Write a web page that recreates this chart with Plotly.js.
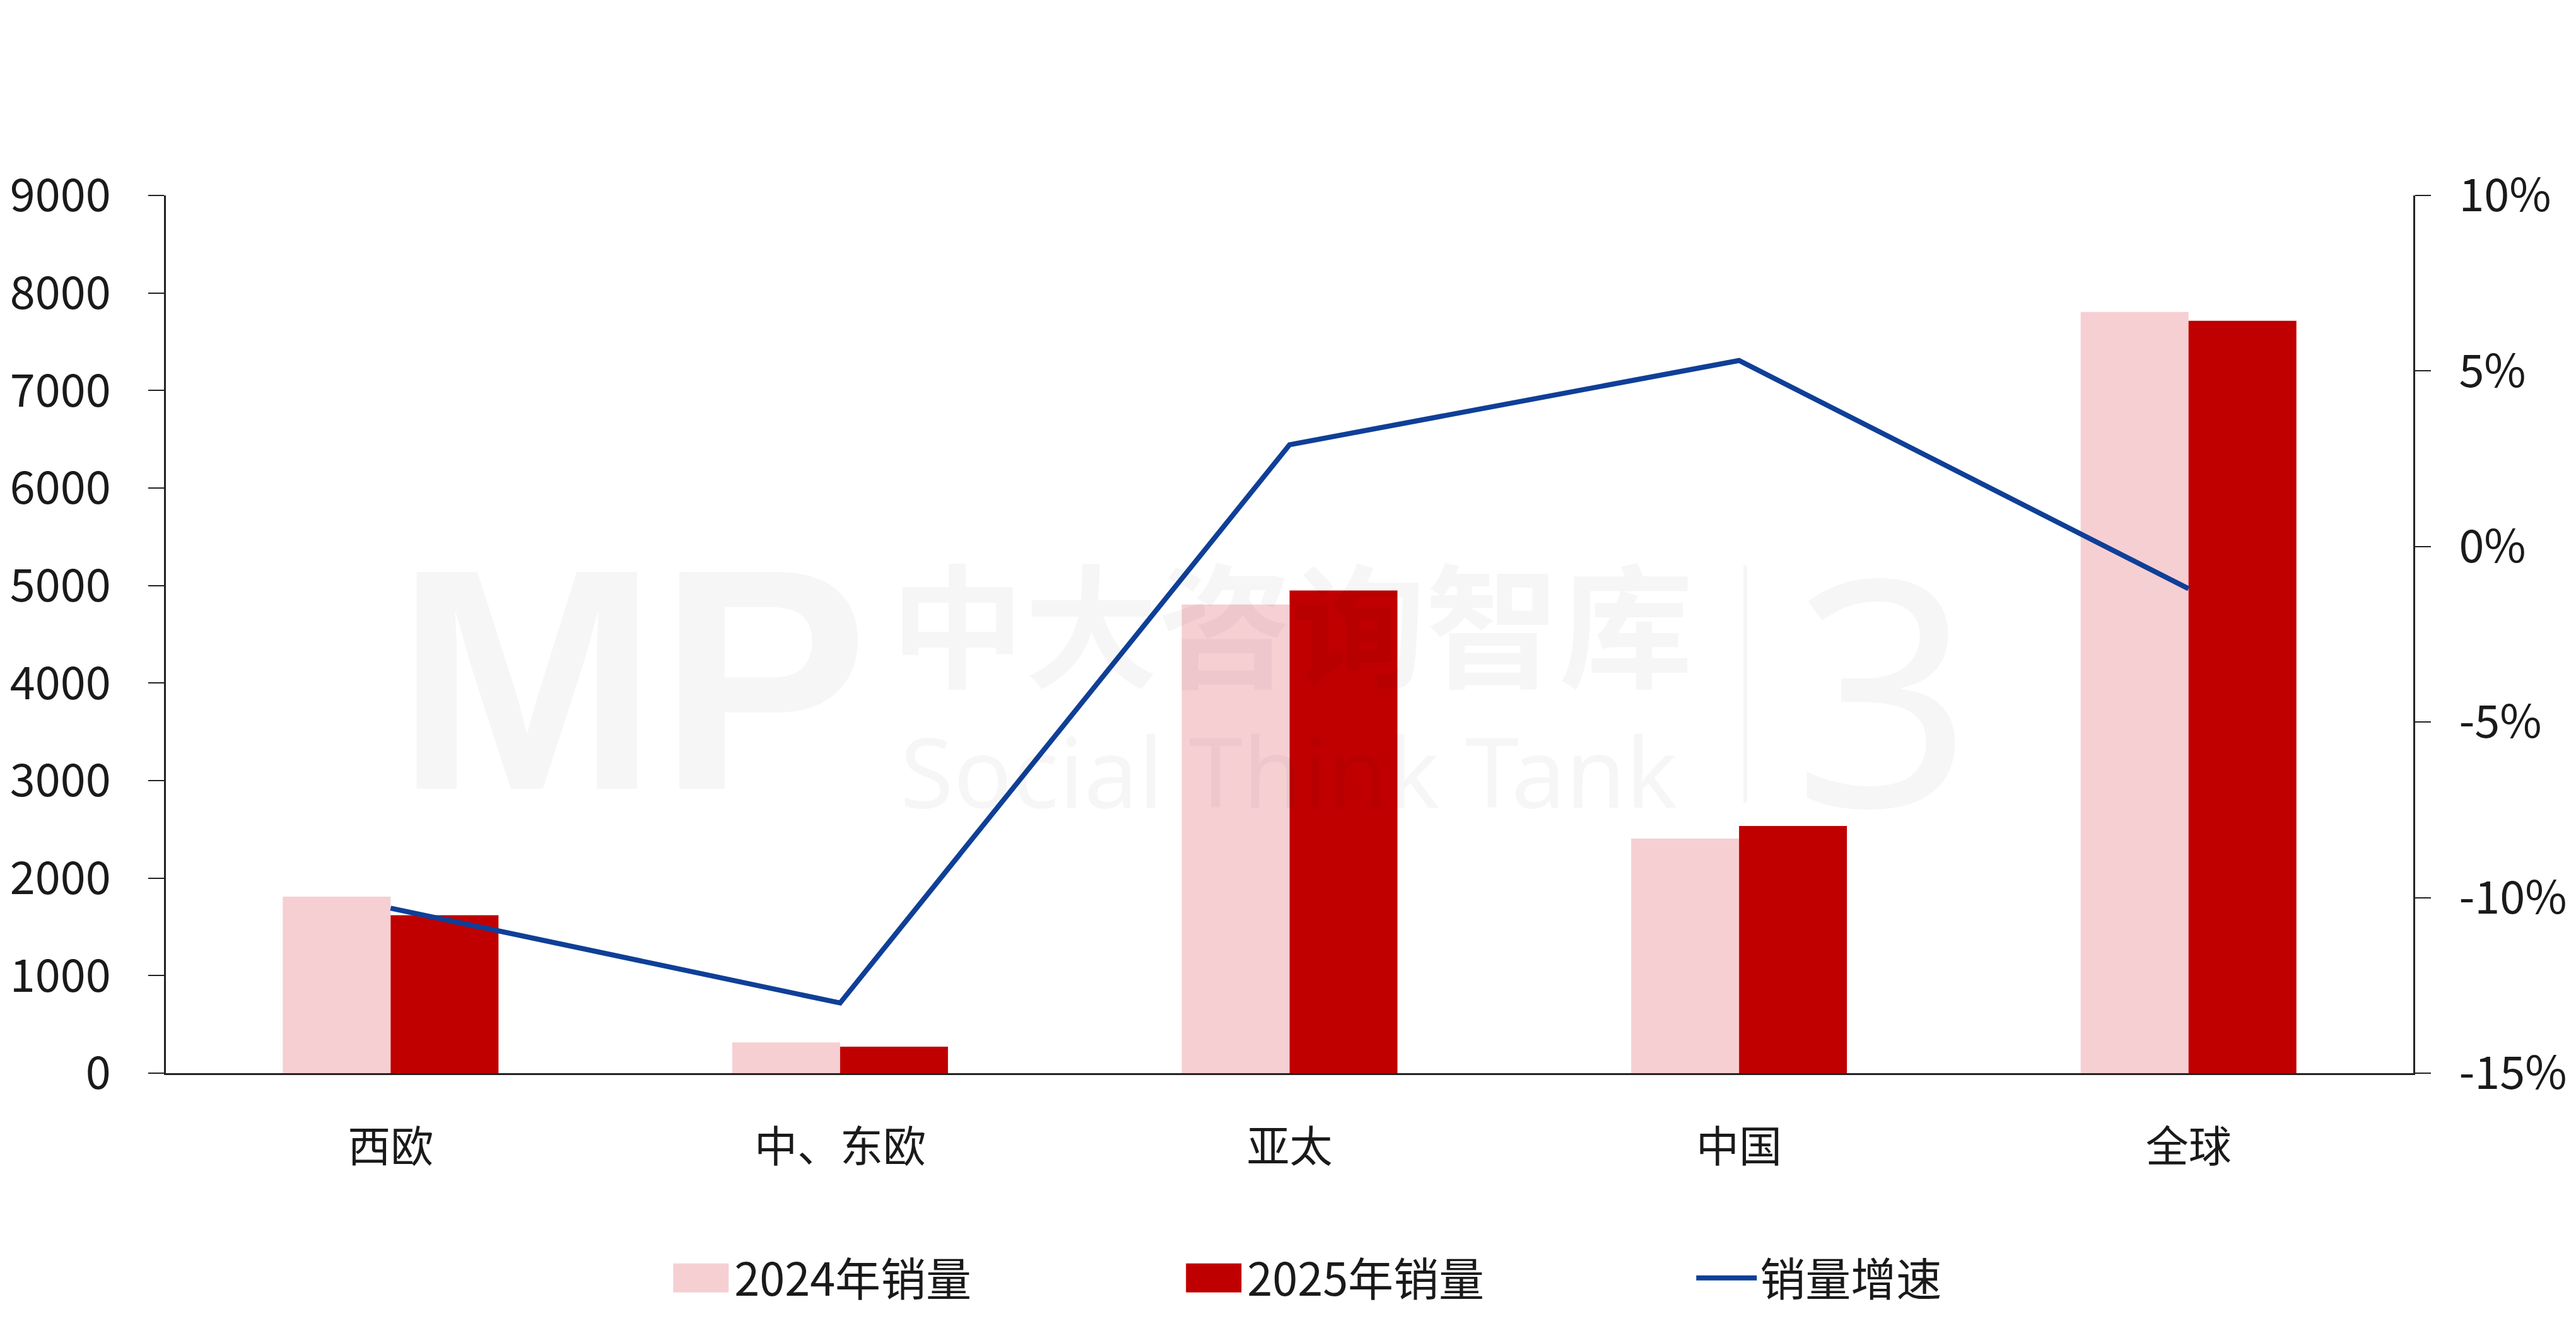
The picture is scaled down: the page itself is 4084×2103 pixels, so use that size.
<!DOCTYPE html>
<html>
<head>
<meta charset="utf-8">
<script src="https://cdn.plot.ly/plotly-3.0.1.min.js"></script>
<style>
  html, body { margin: 0; padding: 0; background: #ffffff; }
  #chart { width: 4084px; height: 2103px; }
</style>
</head>
<body>
<div id="chart"></div>
<script>
// ---- data ----
const categories = ['西欧', '中、东欧', '亚太', '中国', '全球'];
const sales2024 = [1810, 315, 4805, 2405, 7805];
const sales2025 = [1620, 272, 4950, 2535, 7715];
const growth = [-0.103, -0.130, 0.029, 0.053, -0.012];
const seriesNames = ['2024年销量', '2025年销量', '销量增速'];
const leftTicks = [0, 1000, 2000, 3000, 4000, 5000, 6000, 7000, 8000, 9000];
const rightTickVals = [-0.15, -0.10, -0.05, 0, 0.05, 0.10];
const rightTickText = ['-15%', '-10%', '-5%', '0%', '5%', '10%'];

const FONT = '"Noto Sans CJK SC", "Noto Sans", sans-serif';
const TXT = '#1a1a1a';

const traces = [
  {
    type: 'bar', name: seriesNames[0], x: categories, y: sales2024,
    marker: { color: '#F6CFD3' }, hoverinfo: 'skip'
  },
  {
    type: 'bar', name: seriesNames[1], x: categories, y: sales2025,
    marker: { color: '#C00000' }, hoverinfo: 'skip'
  },
  {
    type: 'scatter', mode: 'lines', name: seriesNames[2], x: categories, y: growth,
    yaxis: 'y2', line: { color: '#0F3F97', width: 8 }, hoverinfo: 'skip'
  }
];

const wm = 'rgba(0,0,0,0.035)';
const layout = {
  width: 4084, height: 2103,
  paper_bgcolor: '#ffffff', plot_bgcolor: '#ffffff',
  margin: { l: 263, r: 258, t: 310, b: 401, pad: 0 },
  font: { family: FONT, color: TXT, size: 72 },
  barmode: 'group', bargap: 0.52, bargroupgap: 0,
  showlegend: true,
  xaxis: {
    type: 'category', showline: true, linecolor: '#222', linewidth: 3,
    ticks: '', showgrid: false, zeroline: false,
    tickfont: { family: FONT, size: 68, color: TXT },
    ticklabelstandoff: 56
  },
  yaxis: {
    range: [0, 9000], tickvals: leftTicks, showline: true, linecolor: '#222', linewidth: 3,
    ticks: 'outside', ticklen: 25, tickwidth: 2, tickcolor: '#222',
    showgrid: false, zeroline: false,
    tickfont: { family: FONT, size: 72, color: TXT },
    ticklabelstandoff: 45
  },
  yaxis2: {
    overlaying: 'y', side: 'right', range: [-0.15, 0.10],
    tickvals: rightTickVals, ticktext: rightTickText,
    showline: true, linecolor: '#222', linewidth: 3,
    ticks: 'outside', ticklen: 25, tickwidth: 2, tickcolor: '#222',
    showgrid: false, zeroline: false,
    tickfont: { family: FONT, size: 72, color: TXT },
    ticklabelstandoff: 30
  },
  legend: {
    orientation: 'h', x: 0.2232, xanchor: 'left', y: -0.2335, yanchor: 'middle',
    font: { family: FONT, size: 72, color: TXT },
    itemwidth: 96, entrywidth: 702, entrywidthmode: 'pixels',
    bgcolor: 'rgba(0,0,0,0)', traceorder: 'normal', itemclick: false, itemdoubleclick: false
  },
  annotations: [
    { xref: 'paper', yref: 'paper', x: (1002 - 263) / 3563, y: (1702 - 1077) / 1392,
      text: '<b>MP</b>', showarrow: false, font: { family: '"Liberation Sans", sans-serif', size: 500, color: wm },
      xanchor: 'center', yanchor: 'middle' },
    { xref: 'paper', yref: 'paper', x: (2048 - 263) / 3563, y: (1702 - 982) / 1392,
      text: '<b>中大咨询智库</b>', showarrow: false, font: { family: FONT, size: 212, color: wm },
      xanchor: 'center', yanchor: 'middle' },
    { xref: 'paper', yref: 'paper', x: (2043 - 263) / 3563, y: (1702 - 1221) / 1392,
      text: 'Social Think Tank', showarrow: false, font: { family: '"Noto Sans", sans-serif', size: 154, color: wm },
      xanchor: 'center', yanchor: 'middle' },
    { xref: 'paper', yref: 'paper', x: (2985 - 263) / 3563, y: (1702 - 1085) / 1392,
      text: '3', showarrow: false, font: { family: '"Noto Sans", sans-serif', size: 500, color: wm },
      xanchor: 'center', yanchor: 'middle' }
  ],
  shapes: [
    { type: 'line', xref: 'paper', yref: 'paper',
      x0: (2767 - 263) / 3563, x1: (2767 - 263) / 3563,
      y0: (1702 - 897) / 1392, y1: (1702 - 1273) / 1392,
      line: { color: wm, width: 6 } }
  ]
};

function fixLegend() {
  document.querySelectorAll('#chart .legend .legendpoints path').forEach(function (p) {
    const cls = p.getAttribute('class') || '';
    if (cls.indexOf('line') >= 0) {
      p.setAttribute('d', 'M9,0h94');
      p.style.strokeWidth = '10px';
      p.style.strokeLinecap = 'round';
    } else if (cls.indexOf('fill') < 0) {
      p.setAttribute('d', 'M44,23H-44V-23H44Z');
    }
  });
}

Plotly.newPlot('chart', traces, layout, { staticPlot: true, responsive: false }).then(function () {
  fixLegend();
  setTimeout(fixLegend, 50);
});
</script>
</body>
</html>
